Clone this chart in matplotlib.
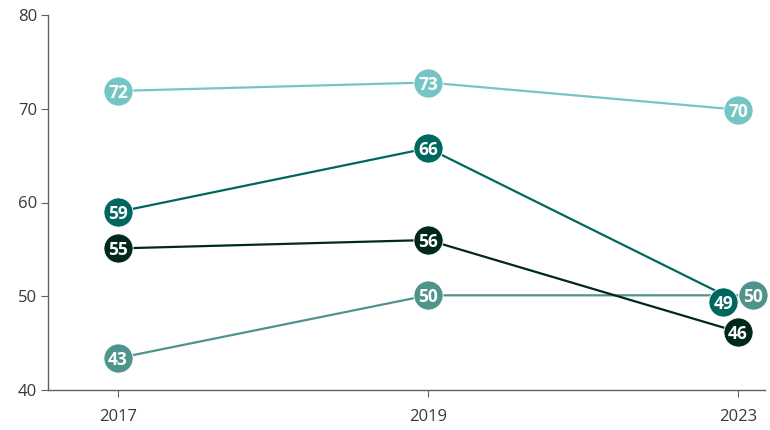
import matplotlib
matplotlib.use("Agg")
import matplotlib.pyplot as plt
from matplotlib.transforms import offset_copy

plt.rcParams['font.family'] = ['Open Sans', 'DejaVu Sans']

years = ["2017", "2019", "2023"]
light_teal = [71.9, 72.8, 69.9]
dark_teal = [59.0, 65.8, 49.4]
blackish = [55.1, 56.0, 46.2]
mid_teal = [43.4, 50.1, 50.1]

labels_light = ["72", "73", "70"]
labels_dark = ["59", "66", "49"]
labels_black = ["55", "56", "46"]
labels_mid = ["43", "50", "50"]

series = [
    (light_teal, labels_light, "#76c5c5", [0, 0, 0]),
    (mid_teal, labels_mid, "#4f948c", [0, 0, 10.5]),
    (blackish, labels_black, "#00291c", [0, 0, 0]),
    (dark_teal, labels_dark, "#00675f", [0, 0, -10.5]),
]

fig = plt.figure(figsize=(7.7, 4.3), dpi=100)
ax = fig.add_axes([48/770, 40/430, (765-48)/770, (390-15)/430])
x = list(range(len(years)))

z = 2
for vals, labs, col, offs in series:
    ax.plot(x, vals, color=col, lw=1.6, zorder=z, solid_capstyle='butt')
    z += 1

z = 10
for vals, labs, col, offs in series:
    for i, (v, lab) in enumerate(zip(vals, labs)):
        tr = offset_copy(ax.transData, fig=fig, x=offs[i], y=0, units='points')
        ax.plot([i], [v], 'o', ms=21, color=col, mec='white', mew=0.6,
                transform=tr, zorder=z, clip_on=False)
        ax.text(i, v, lab, transform=tr, ha='center', va='center_baseline',
                color='white', fontsize=12.5, fontweight='bold', zorder=z + 1)
    z += 2

ax.set_xlim(-0.226, 2.087)
ax.set_ylim(40, 80)
ax.set_yticks([40, 50, 60, 70, 80])
ax.set_xticks(x)
ax.set_xticklabels(years)
for s in ['top', 'right']:
    ax.spines[s].set_visible(False)
for s in ['left', 'bottom']:
    ax.spines[s].set_color('#55646a')
    ax.spines[s].set_linewidth(1.0)
ax.tick_params(axis='y', colors='#55646a', labelcolor='#333b3d', labelsize=12, length=5, pad=3)
ax.tick_params(axis='x', colors='#55646a', labelcolor='#333b3d', labelsize=12, length=5, pad=9)

fig.savefig("out.png", dpi=100)
